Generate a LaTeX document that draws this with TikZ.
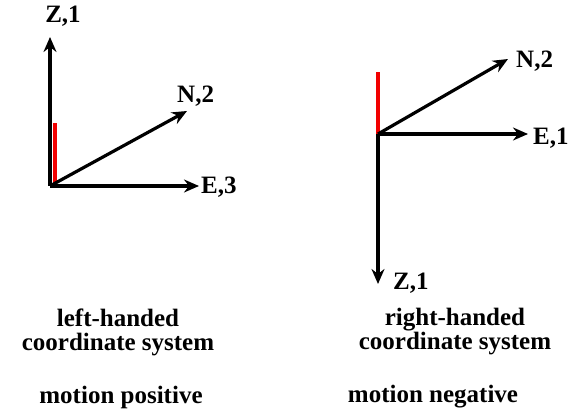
\documentclass[tikz,border=0pt]{standalone}
\usepackage{fontspec}
\setmainfont{Liberation Serif}
\usetikzlibrary{positioning,arrows.meta}

\begin{document}
\begin{tikzpicture}[
x=1pt, y=-1pt,
node distance=2pt and 2pt,
every node/.style={font=\fontsize{25}{28}\selectfont\bfseries, inner sep=0pt},
axis/.style={line width=3.2pt, -{Stealth[length=15pt, width=13pt, inset=5pt]}},
mark line/.style={line width=3.2pt, red!95!black},
caption/.style={align=center}
]
\useasboundingbox (0,0) rectangle (571,411);
% left-handed system
\coordinate (oL) at (50,186);
\coordinate (zL) at (50,37);
\coordinate (nL) at (187,111);
\coordinate (eL) at (199,186);
\coordinate (rL) at (55,123);
\node[anchor=south] (labZL) at (63,27) {Z,1};
\node[right=of nL, anchor=south west, yshift=4pt, xshift=-12pt] (labNL) {N,2};
\node[right=of eL, anchor=west, yshift=-1pt] (labEL) {E,3};
\draw[mark line] (oL -| rL) -- (rL);
\draw[axis] (oL) -- (zL);
\draw[axis] (oL) -- (nL);
\draw[axis] (oL) -- (eL);
% right-handed system
\coordinate (oR) at (378,134);
\coordinate (zR) at (378,284);
\coordinate (nR) at (508,59);
\coordinate (eR) at (528,134);
\coordinate (rR) at (378,72);
\node[right=of nR, anchor=west, xshift=6pt, yshift=-2pt] (labNR) {N,2};
\node[right=of eR, anchor=west, xshift=3pt, yshift=-4pt] (labER) {E,1};
\node[anchor=west] (labZR) at (393,283) {Z,1};
\draw[mark line] (oR) -- (rR);
\draw[axis] (oR) -- (zR);
\draw[axis] (oR) -- (nR);
\draw[axis] (oR) -- (eR);
% captions
\node[caption] (capL) at (118,332) {left-handed\\[-4pt]coordinate system};
\node[caption] (capR) at (455,332) {right-handed\\[-4pt]coordinate system};
\node (motL) at (121,397) {motion positive};
\node (motR) at (433,397) {motion negative};
\end{tikzpicture}
\end{document}
